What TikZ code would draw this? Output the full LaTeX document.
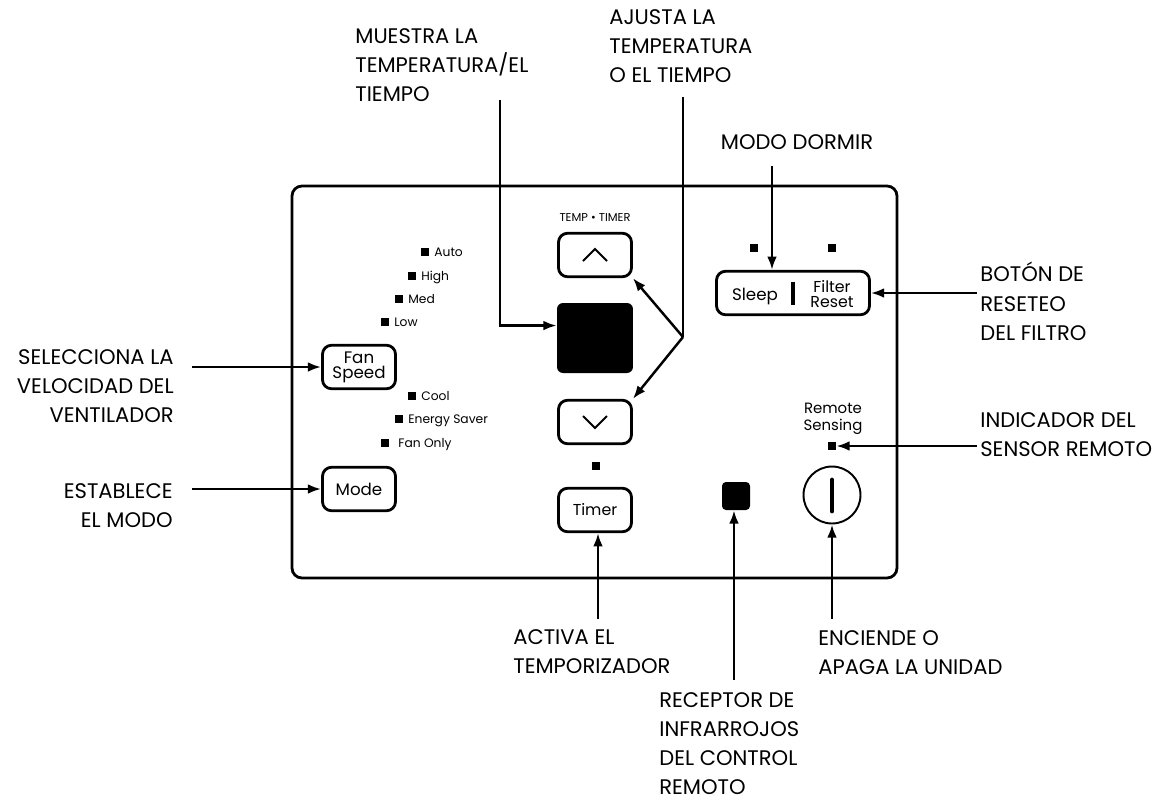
\documentclass[tikz,border=0pt]{standalone}
\usepackage{fontspec}
\setmainfont{Poppins}
\usetikzlibrary{arrows.meta}

\begin{document}
\begin{tikzpicture}[x=0.02cm, y=-0.02cm,
  lbl/.style={inner sep=0pt, font=\fontsize{12}{16.6}\selectfont},
  key/.style={draw, line width=1.6pt, rounded corners=0.18cm, minimum width=1.46cm, minimum height=0.87cm, inner sep=0pt, align=center, font=\fontsize{9.5}{8.5}\selectfont},
  led/.style={fill=black, minimum size=0.16cm, inner sep=0pt},
  ledtxt/.style={inner sep=0pt, anchor=base west, font=\fontsize{7}{7}\selectfont},
  arr/.style={line width=1.4pt, -{Latex[length=7.5pt,width=5.5pt]}},
  wire/.style={line width=1.4pt}]
\useasboundingbox (0,0) rectangle (1174,802);

\draw[line width=1.6pt, rounded corners=0.2cm] (292,186) rectangle (897,578);

\node[led] (autoled) at (425,252) {};
\node[ledtxt] (auto) at (434,256) {Auto};
\node[led] (highled) at (412,276) {};
\node[ledtxt] (high) at (421,280) {High};
\node[led] (medled) at (399,299) {};
\node[ledtxt] (med) at (408,303) {Med};
\node[led] (lowled) at (385,322) {};
\node[ledtxt] (low) at (394,326) {Low};
\node[key] (fan) at (359,367) {Fan\\Speed};
\node[led] (coolled) at (412,396) {};
\node[ledtxt] (cool) at (421,400) {Cool};
\node[led] (saverled) at (399,419) {};
\node[ledtxt] (saver) at (408,423) {Energy Saver};
\node[led] (fanonlyled) at (385,443) {};
\node[ledtxt] (fanonly) at (398,447) {Fan Only};
\node[key] (mode) at (359,489) {Mode};

\node[inner sep=0pt, font=\fontsize{6.5}{7}\selectfont] (temptimer) at (595,218) {TEMP \textbullet\ TIMER};
\node[key] (up) at (595,255) {};
\draw[line width=1.1pt] ([shift={(-12,6)}]up.center) -- ([shift={(0,-6)}]up.center) -- ([shift={(12,6)}]up.center);
\node[fill=black, rounded corners=0.12cm, minimum width=1.52cm, minimum height=1.4cm] (display) at (595,338) {};
\node[key] (down) at (595,422) {};
\draw[line width=1.1pt] ([shift={(-12,-6)}]down.center) -- ([shift={(0,6)}]down.center) -- ([shift={(12,-6)}]down.center);
\node[led] (timerled) at (596,466) {};
\node[key, font=\fontsize{9}{8}\selectfont] (timer) at (595,510) {Timer};

\node[led] (sleepled) at (754,248) {};
\node[led] (filterled) at (832,248) {};
\node[key, minimum width=3.06cm] (sleep) at (793,293) {};
\node[inner sep=0pt, anchor=base, font=\fontsize{9.5}{8}\selectfont] (sleeptxt) at (755,300) {Sleep};
\draw[line width=2.2pt] (793,282) -- (793,305);
\node[inner sep=0pt, align=center, font=\fontsize{9}{8.4}\selectfont] (filtertxt) at (832,294) {Filter\\Reset};

\node[inner sep=0pt, align=center, font=\fontsize{8.5}{9.6}\selectfont] (remotetxt) at (833,419) {Remote\\Sensing};
\node[led] (remoteled) at (832,446) {};
\node[fill=black, rounded corners=0.08cm, minimum size=0.56cm] (ir) at (736,496) {};
\node[draw, circle, line width=1.1pt, minimum size=1.14cm, inner sep=0pt] (power) at (832,495) {};
\draw[line width=2.8pt, line cap=round] (832,480) -- (832,511);

\node[lbl, anchor=north west, align=left] (muestra) at (355,28) {MUESTRA LA\\TEMPERATURA/EL\\TIEMPO};
\coordinate (muestraend) at (500,100);
\draw[arr] (muestraend) |- (display.162);

\node[lbl, anchor=north west, align=left] (ajusta) at (609,9) {AJUSTA LA\\TEMPERATURA\\O EL TIEMPO};
\coordinate (ajustaend) at (683,97);
\coordinate (fork) at (683,337);
\draw[wire] (ajustaend) -- (fork);
\draw[arr] (fork) -- (up.south east);
\draw[arr] (fork) -- (down.north east);

\node[lbl] (dormir) at (797,142) {MODO DORMIR};
\coordinate (dormirend) at (772,166);
\draw[arr] (dormirend) -- (sleep.north -| dormirend);

\node[lbl, anchor=north west, align=left] (boton) at (980,262) {BOTÓN DE\\RESETEO\\DEL FILTRO};
\coordinate (botonend) at (977,293);
\draw[arr] (botonend) -- (sleep.east);

\node[lbl, anchor=north west, align=left] (indicador) at (980,412) {INDICADOR DEL\\SENSOR REMOTO};
\coordinate (indicadorend) at (977,446);
\draw[arr] (indicadorend) -- (remoteled.east);

\node[lbl, anchor=north east, align=right] (selecciona) at (174,349) {SELECCIONA LA\\VELOCIDAD DEL\\VENTILADOR};
\coordinate (seleccionaend) at (192,367);
\draw[arr] (seleccionaend) -- (fan.west);

\node[lbl, anchor=north east, align=right] (establece) at (173,483) {ESTABLECE\\EL MODO};
\coordinate (estableceend) at (192,489);
\draw[arr] (estableceend) -- (mode.west);

\node[lbl, anchor=north west, align=left] (activa) at (513,629) {ACTIVA EL\\TEMPORIZADOR};
\coordinate (activaend) at (598,619);
\draw[arr] (activaend) -- (timer.south -| activaend);

\node[lbl, anchor=north west, align=left] (receptor) at (659,692) {RECEPTOR DE\\INFRARROJOS\\DEL CONTROL\\REMOTO};
\coordinate (receptorend) at (734,680);
\draw[arr] (receptorend) -- (ir.south -| receptorend);

\node[lbl, anchor=north west, align=left] (enciende) at (818,630) {ENCIENDE O\\APAGA LA UNIDAD};
\coordinate (enciendeend) at (832,619);
\draw[arr] (enciendeend) -- (power.south);
\end{tikzpicture}
\end{document}
